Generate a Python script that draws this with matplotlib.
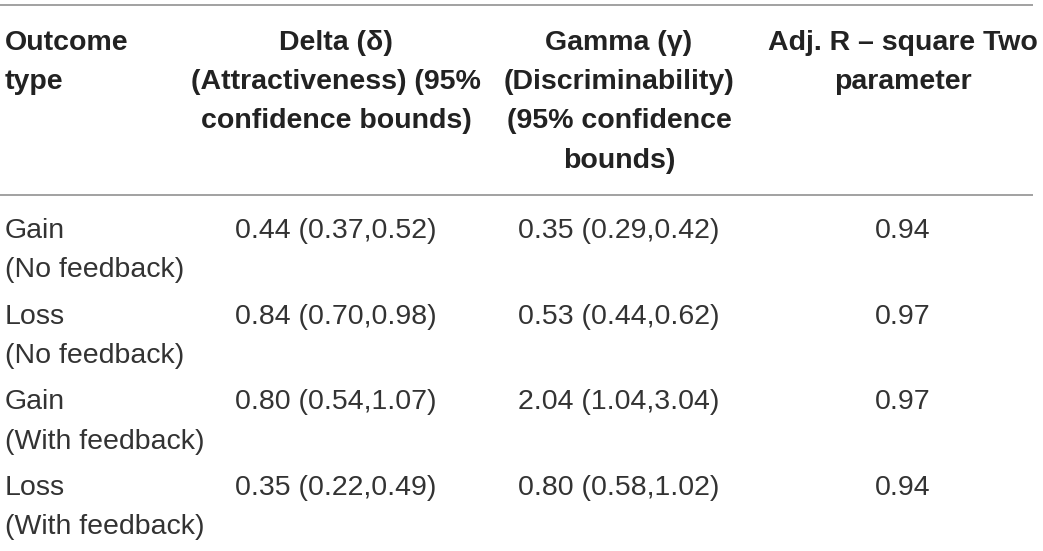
import matplotlib.pyplot as plt
from matplotlib import font_manager

W, H = 1043, 551

HEADERS = [
    ["Outcome", "type"],
    ["Delta (\u03b4)", "(Attractiveness) (95%", "confidence bounds)"],
    ["Gamma (\u03b3)", "(Discriminability)", "(95% confidence", "bounds)"],
    ["Adj. R \u2013 square Two", "parameter"],
]
OUTCOMES = ["Gain", "Loss", "Gain", "Loss"]
CONDITIONS = ["(No feedback)", "(No feedback)", "(With feedback)", "(With feedback)"]
DELTA = ["0.44 (0.37,0.52)", "0.84 (0.70,0.98)", "0.80 (0.54,1.07)", "0.35 (0.22,0.49)"]
GAMMA = ["0.35 (0.29,0.42)", "0.53 (0.44,0.62)", "2.04 (1.04,3.04)", "0.80 (0.58,1.02)"]
ADJ_R2 = ["0.94", "0.97", "0.97", "0.94"]

names = {f.name for f in font_manager.fontManager.ttflist}
FONT = "Liberation Sans" if "Liberation Sans" in names else "DejaVu Sans"

COL_X = [5, 336, 619, 903]
COL_HA = ["left", "center", "center", "center"]
HEAD_Y0 = 43
LINE_STEP = 39.2
ROW_Y0 = 231
ROW_STEP = 85.7
FS = 20.5
TXT = "#222222"
BODY = "#333333"
RULE = "#9a9a9a"

fig = plt.figure(figsize=(W / 100, H / 100), dpi=100)
ax = fig.add_axes([0, 0, 1, 1])
ax.set_xlim(0, W)
ax.set_ylim(H, 0)
ax.axis("off")

# rules
for y in (5, 195):
    ax.plot([0, 1033], [y, y], color=RULE, lw=1.3, solid_capstyle="butt")

# header
for x, ha, lines in zip(COL_X, COL_HA, HEADERS):
    for i, s in enumerate(lines):
        ax.text(x, HEAD_Y0 + i * LINE_STEP, s, ha=ha, va="center",
                fontsize=FS, fontweight="bold", color=TXT, family=[FONT, "DejaVu Sans"])

# body
for r in range(len(OUTCOMES)):
    y = ROW_Y0 + r * ROW_STEP
    ax.text(COL_X[0], y, OUTCOMES[r], ha="left", va="center", fontsize=FS, color=BODY, family=FONT)
    ax.text(COL_X[0], y + LINE_STEP, CONDITIONS[r], ha="left", va="center", fontsize=FS, color=BODY, family=FONT)
    for c, vals in zip(COL_X[1:], (DELTA, GAMMA, ADJ_R2)):
        ax.text(c, y, vals[r], ha="center", va="center", fontsize=FS, color=BODY, family=FONT)

fig.savefig("out.png", dpi=100, facecolor="white")
